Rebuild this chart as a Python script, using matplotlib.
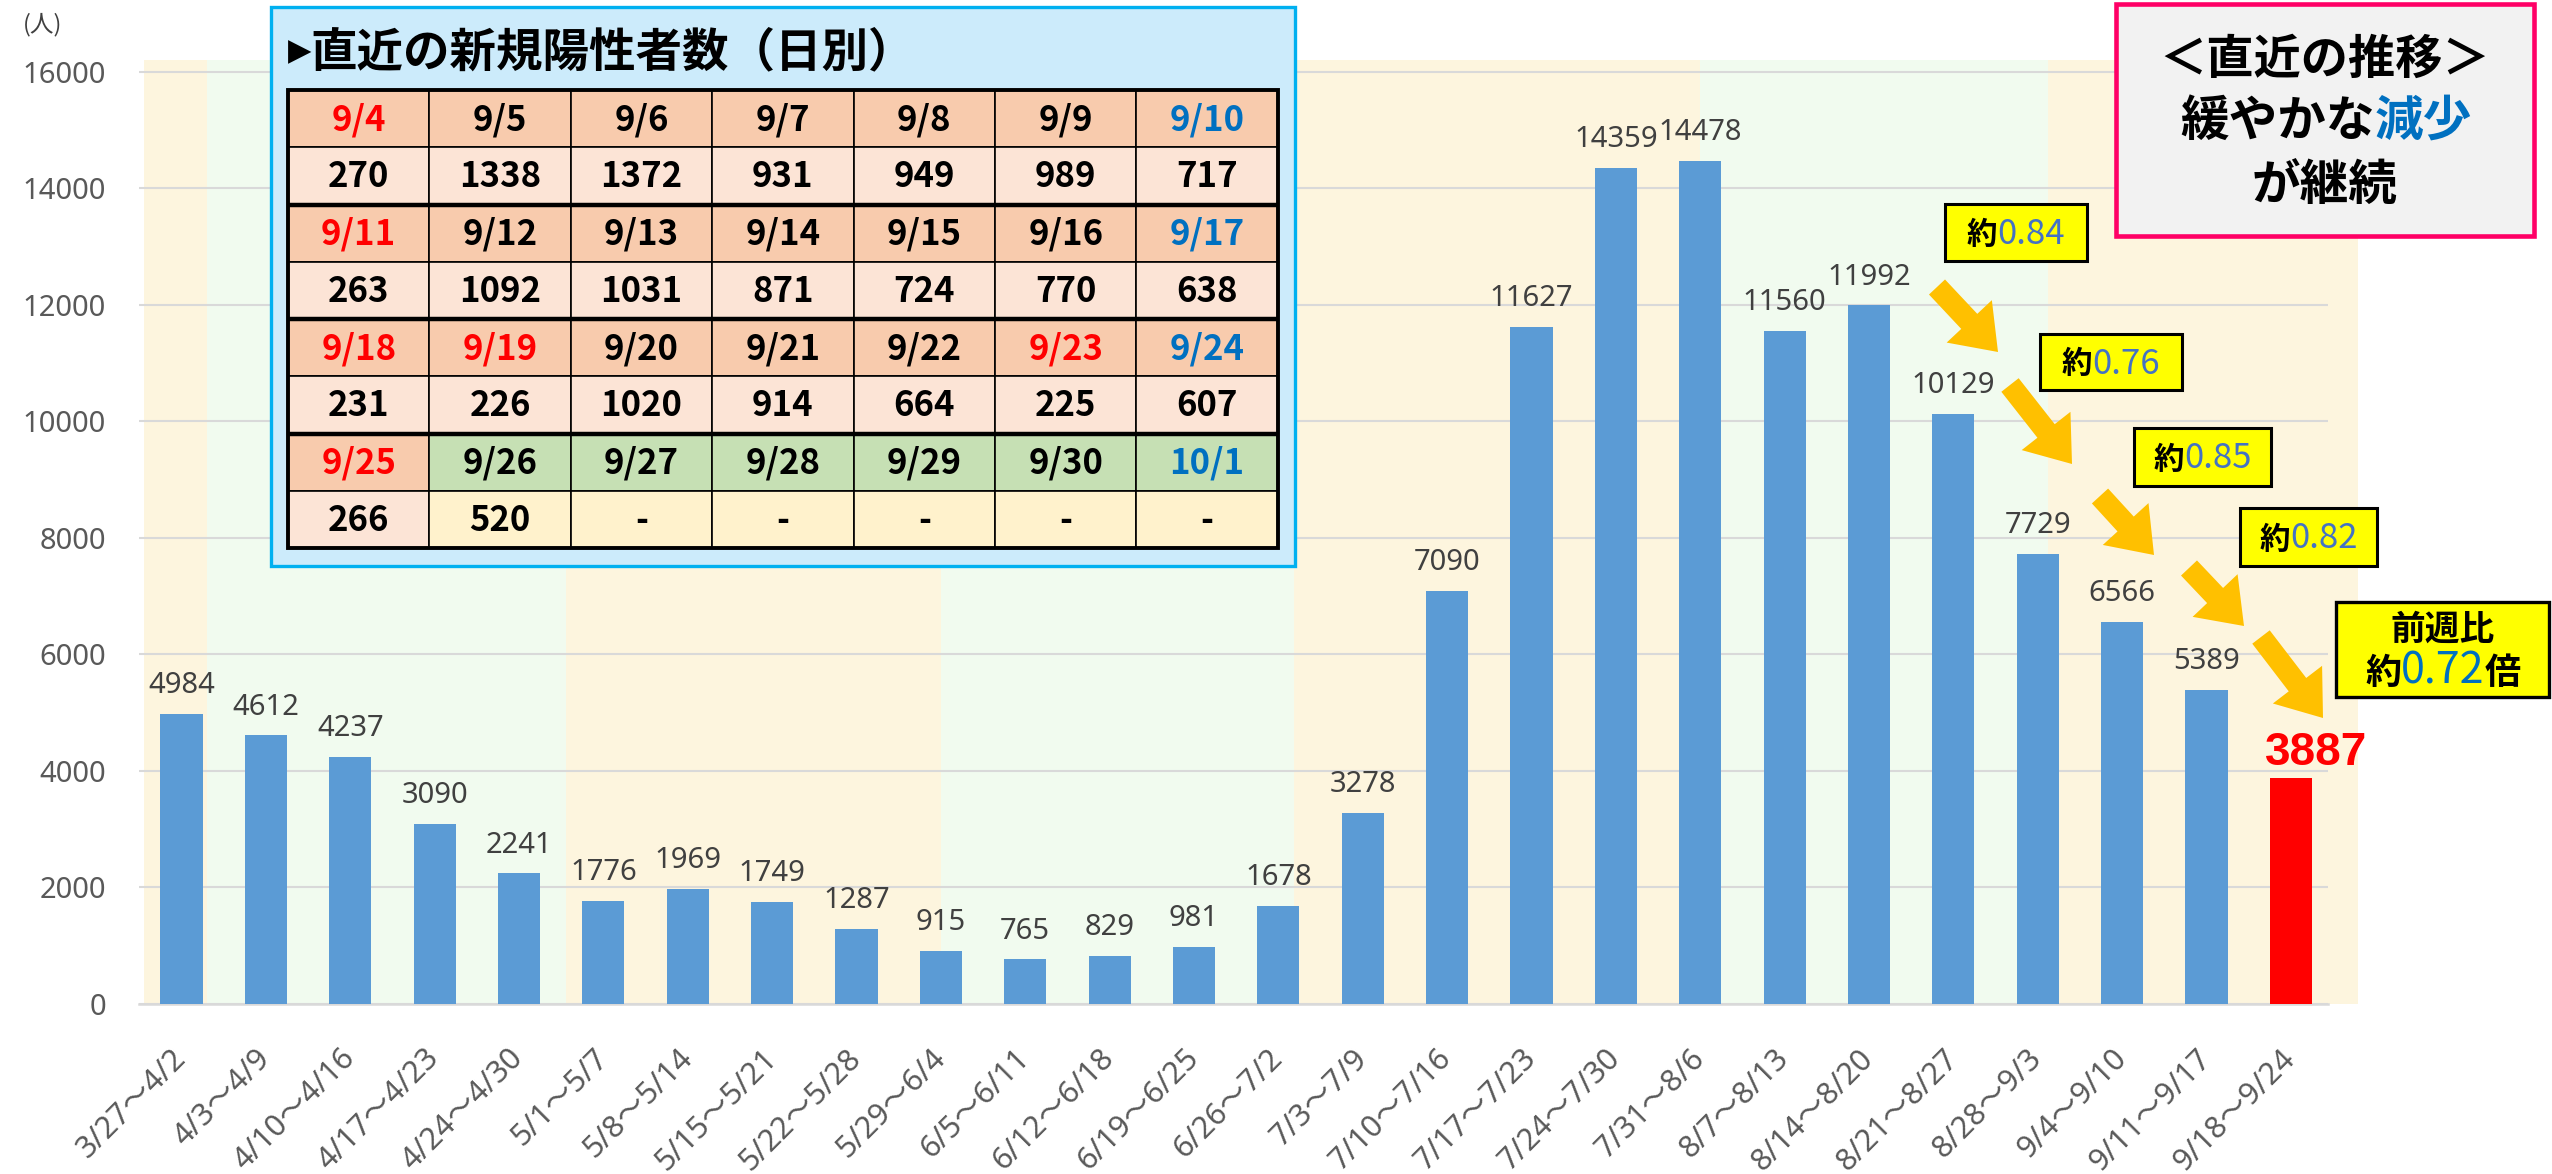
import matplotlib
matplotlib.use("Agg")
import matplotlib.pyplot as plt
from matplotlib.patches import Rectangle, FancyArrow
from matplotlib.offsetbox import TextArea, HPacker, AnnotationBbox

# ---------------- data ----------------
weeks = ["3/27～4/2", "4/3～4/9", "4/10～4/16", "4/17～4/23", "4/24～4/30",
         "5/1～5/7", "5/8～5/14", "5/15～5/21", "5/22～5/28", "5/29～6/4",
         "6/5～6/11", "6/12～6/18", "6/19～6/25", "6/26～7/2", "7/3～7/9",
         "7/10～7/16", "7/17～7/23", "7/24～7/30", "7/31～8/6", "8/7～8/13",
         "8/14～8/20", "8/21～8/27", "8/28～9/3", "9/4～9/10", "9/11～9/17",
         "9/18～9/24"]
weekly_cases = [4984, 4612, 4237, 3090, 2241, 1776, 1969, 1749, 1287, 915,
                765, 829, 981, 1678, 3278, 7090, 11627, 14359, 14478, 11560,
                11992, 10129, 7729, 6566, 5389, 3887]
y_ticks = [0, 2000, 4000, 6000, 8000, 10000, 12000, 14000, 16000]

# background periods (category-unit edges) and their kind
period_edges = [-0.45, 0.3, 4.56, 9.0, 13.18, 18.0, 22.12, 25.8]
period_kinds = ["y", "g", "y", "g", "y", "g", "y"]

table_dates = [["9/4", "9/5", "9/6", "9/7", "9/8", "9/9", "9/10"],
               ["9/11", "9/12", "9/13", "9/14", "9/15", "9/16", "9/17"],
               ["9/18", "9/19", "9/20", "9/21", "9/22", "9/23", "9/24"],
               ["9/25", "9/26", "9/27", "9/28", "9/29", "9/30", "10/1"]]
table_values = [[270, 1338, 1372, 931, 949, 989, 717],
                [263, 1092, 1031, 871, 724, 770, 638],
                [231, 226, 1020, 914, 664, 225, 607],
                [266, 520, None, None, None, None, None]]
red_dates = ["9/4", "9/11", "9/18", "9/19", "9/23", "9/25"]
blue_dates = ["9/10", "9/17", "9/24", "10/1"]
current_week = ["9/26", "9/27", "9/28", "9/29", "9/30", "10/1"]

week_ratios = ["0.84", "0.76", "0.85", "0.82"]
last_ratio = "0.72"

# ---------------- style ----------------
BLUE_BAR = "#5B9BD5"
RED = "#FF0000"
BAND = {"y": "#FDF5DE", "g": "#F1FBEF"}
GRID = "#D9D9D9"
TICK = "#595959"
LABEL = "#404040"
CJK = ["Noto Sans CJK JP", "DejaVu Sans"]
NUM = ["Noto Sans", "Noto Sans CJK JP"]

W, H = 2552, 1174
fig = plt.figure(figsize=(W / 100, H / 100), dpi=100)

x_left, x_right = 139.3, 2328.0
y_zero, y_top = 1004.0, 60.3
ax = fig.add_axes([x_left / W, (H - y_zero) / H, (x_right - x_left) / W, (y_zero - y_top) / H])
n = len(weekly_cases)
ax.set_xlim(-0.5, 25.44)
ax.set_ylim(0, 16200)

for x0, x1, k in zip(period_edges[:-1], period_edges[1:], period_kinds):
    ax.add_patch(Rectangle((x0, 0), x1 - x0, 16200, facecolor=BAND[k],
                           edgecolor="none", zorder=0, clip_on=False))

ax.set_yticks(y_ticks)
ax.yaxis.grid(True, color=GRID, lw=1.5, zorder=0.5)
ax.set_axisbelow(True)
for s in ["left", "right", "top"]:
    ax.spines[s].set_visible(False)
ax.spines["bottom"].set_color(GRID)
ax.spines["bottom"].set_linewidth(1.8)
ax.spines["bottom"].set_zorder(2)
ax.patch.set_alpha(0)

ax.tick_params(axis="y", length=0, pad=24, labelsize=21, labelcolor=TICK)
for t in ax.get_yticklabels():
    t.set_fontfamily(NUM)
ax.set_xticks(range(n))
ax.set_xticklabels(weeks, rotation=45, ha="right", va="center",
                   rotation_mode="anchor", fontsize=22, color=TICK,
                   fontfamily=NUM)
ax.tick_params(axis="x", length=0, pad=36)

colors = [BLUE_BAR] * (n - 1) + [RED]
ax.bar(range(n), weekly_cases, width=0.5, color=colors, zorder=3)

for i, v in enumerate(weekly_cases):
    if i == n - 1:
        ax.annotate(f"{v}", (i, v), xytext=(18, 9), textcoords="offset points",
                    ha="center", va="baseline", fontsize=33, fontweight="bold",
                    color=RED, fontfamily=["Liberation Sans", "DejaVu Sans"], zorder=4)
    else:
        ax.annotate(f"{v}", (i, v), xytext=(0, 15), textcoords="offset points",
                    ha="center", va="baseline", fontsize=21, color=LABEL,
                    fontfamily=NUM, zorder=4)

# ---------------- overlay (pixel coordinates) ----------------
ov = fig.add_axes([0, 0, 1, 1], zorder=5)
ov.set_xlim(0, W)
ov.set_ylim(H, 0)
ov.axis("off")
ov.patch.set_alpha(0)

ov.text(43, 25, "(人)", ha="center", va="center", fontsize=17, color=LABEL,
        fontfamily=CJK)

# table panel
ov.add_patch(Rectangle((271, 7), 1295 - 271, 566 - 7, facecolor="#CCEBFB",
                       edgecolor="#00B0F0", lw=2.4))
ov.text(288, 52, "▶", ha="left", va="center", fontsize=22,
        color="black", fontfamily=["DejaVu Sans"])
ov.text(310, 52, "直近の新規陽性者数（日別）", ha="left", va="center",
        fontsize=33.5, fontweight="bold", color="black", fontfamily=CJK)

tx0, ty0, cw, rh = 288.0, 90.0, 141.4, 57.25
for r, (drow, vrow) in enumerate(zip(table_dates, table_values)):
    for c, (d, v) in enumerate(zip(drow, vrow)):
        cur = d in current_week
        hfc = "#C6E0B4" if cur else "#F8CBAD"
        vfc = "#FFF2CC" if cur else "#FCE4D6"
        x = tx0 + c * cw
        yh = ty0 + (2 * r) * rh
        yv = ty0 + (2 * r + 1) * rh
        ov.add_patch(Rectangle((x, yh), cw, rh, facecolor=hfc, edgecolor="black", lw=1.2))
        ov.add_patch(Rectangle((x, yv), cw, rh, facecolor=vfc, edgecolor="black", lw=1.2))
        dc = RED if d in red_dates else ("#0070C0" if d in blue_dates else "black")
        ov.text(x + cw / 2, yh + rh / 2 + 1, d, ha="center", va="center",
                fontsize=25, fontweight="bold", color=dc, fontfamily=CJK)
        ov.text(x + cw / 2, yv + rh / 2 + 1, "-" if v is None else f"{v}",
                ha="center", va="center", fontsize=25, fontweight="bold",
                color="black", fontfamily=CJK)
tw, th = 7 * cw, 8 * rh
for k in (2, 4, 6):
    ov.plot([tx0, tx0 + tw], [ty0 + k * rh] * 2, color="black", lw=3.2,
            solid_capstyle="butt")
ov.add_patch(Rectangle((tx0, ty0), tw, th, facecolor="none", edgecolor="black", lw=2.8))


def packed(parts, xy):
    areas = [TextArea(s, textprops=dict(fontsize=fs, fontweight=fw, color=col,
                                        fontfamily=CJK))
             for s, fs, fw, col in parts]
    box = HPacker(children=areas, pad=0, sep=0, align="baseline")
    ab = AnnotationBbox(box, xy, xycoords="data", frameon=False,
                        box_alignment=(0.5, 0.5), pad=0)
    ov.add_artist(ab)


# top-right summary box
ov.add_patch(Rectangle((2116, 4), 418, 232, facecolor="#F2F2F2",
                       edgecolor="#FF0066", lw=3.3))
ov.text(2325, 60, "＜直近の推移＞", ha="center", va="center", fontsize=34,
        fontweight="bold", color="black", fontfamily=CJK)
packed([("緩やかな", 35, "bold", "black"), ("減少", 35, "bold", "#0070C0")], (2326, 121))
ov.text(2325, 186, "が継続", ha="center", va="center", fontsize=35,
        fontweight="bold", color="black", fontfamily=CJK)

# ratio callouts
callout_boxes = [(1945, 204, 2087, 261), (2040, 334, 2182, 390),
                 (2134, 428, 2271, 486), (2240, 508, 2377, 566)]
for (x0, y0, x1, y1), rt in zip(callout_boxes, week_ratios):
    ov.add_patch(Rectangle((x0, y0), x1 - x0, y1 - y0, facecolor="#FFFF00",
                           edgecolor="black", lw=2.2))
    packed([("約", 22, "bold", "black"), (rt, 25, "normal", "#4472C4")],
           ((x0 + x1) / 2, (y0 + y1) / 2 + 2))

ov.add_patch(Rectangle((2336, 602), 213, 95, facecolor="#FFFF00",
                       edgecolor="black", lw=2.4))
ov.text(2443, 629, "前週比", ha="center", va="center", fontsize=25,
        fontweight="bold", color="black", fontfamily=CJK)
packed([("約", 26, "bold", "black"), (last_ratio, 31, "normal", "#0070C0"),
        ("倍", 26, "bold", "black")], (2443, 672))

# arrows
arrows = [((1937, 287), (1998, 352)), ((2010, 385), (2072, 464)),
          ((2100, 496), (2154, 555)), ((2189, 568), (2244, 626)),
          ((2261, 637), (2323, 718))]
for (xa, ya), (xb, yb) in arrows:
    ov.add_patch(FancyArrow(xa, ya, xb - xa, yb - ya, width=22, head_width=62,
                            head_length=42, length_includes_head=True,
                            color="#FFC000", lw=0))

fig.savefig("out.png", dpi=100)
